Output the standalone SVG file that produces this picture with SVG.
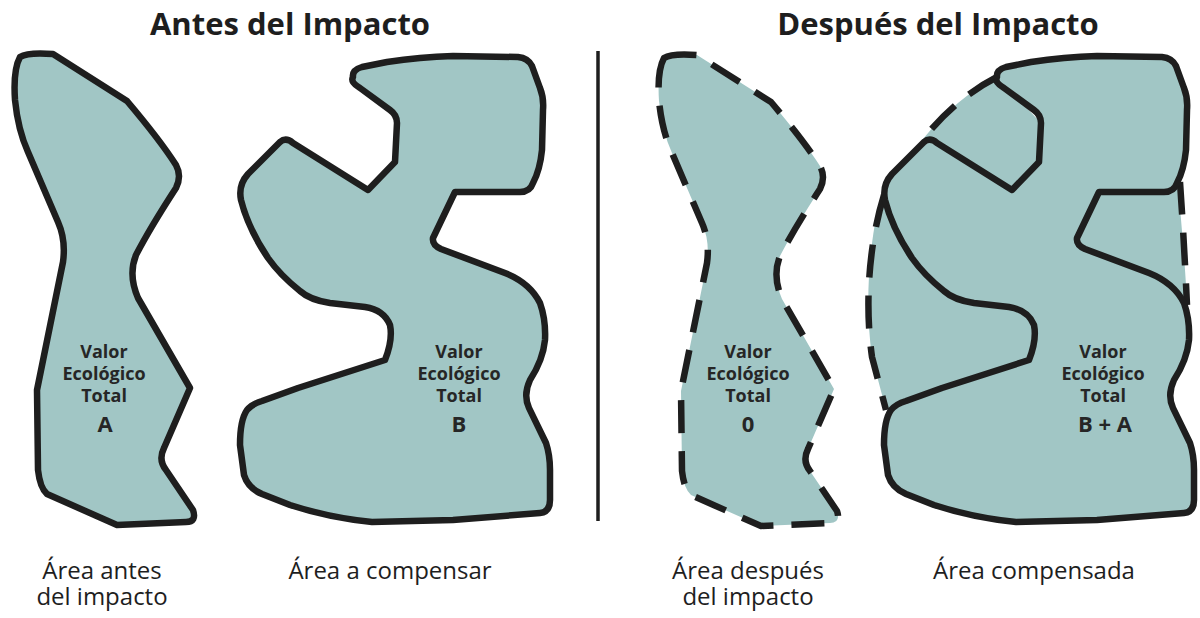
<svg xmlns="http://www.w3.org/2000/svg" width="1200" height="618" viewBox="0 0 1200 618">
<defs>
<style>
.fill{fill:#a1c6c5;stroke:none}
.solid{fill:none;stroke:#1e1e1e;stroke-width:6.5;stroke-linejoin:round;stroke-linecap:round}
.dash{fill:none;stroke:#1e1e1e;stroke-width:6.5;stroke-dasharray:33 18;stroke-linejoin:round}
.title{font-family:'Open Sans','DejaVu Sans',sans-serif;font-weight:bold;font-size:31px;fill:#1e1e1e;text-anchor:middle}
.lbl{font-family:'Open Sans','DejaVu Sans',sans-serif;font-size:24px;fill:#1e1e1e;text-anchor:middle}
.val{font-family:'Open Sans','DejaVu Sans',sans-serif;font-weight:bold;font-size:18px;fill:#262626;text-anchor:middle}
.big{font-family:'Open Sans','DejaVu Sans',sans-serif;font-weight:bold;font-size:22px;fill:#262626;text-anchor:middle}
</style>
<path id="shapeA" d="M 20,57 Q 28,52 53,54 L 127,101 Q 160,140 176,165 Q 182,176 176,188 Q 150,228 136,255 Q 128,275 138,298 L 190,388 L 164,448 Q 158,460 166,470 L 193,510 Q 197,522 186,522 L 117,525 L 47,494 Q 40,488 38,470 L 37,390 L 63,262 Q 66,240 58,222 L 28,152 Q 18,130 15,100 Q 13,70 20,57 Z"/>
<path id="shapeB" d="M 353,77 Q 352,70 362,67 L 387,62 Q 420,57 453,56 L 518,57 Q 528,58 532,66 L 540,88 Q 544,98 543,110 L 542,150 Q 540,170 533,183 Q 530,192 520,192 L 455,192 L 433,238 Q 432,245 441,249 L 505,273 Q 530,283 540,303 Q 546,320 545,340 Q 543,360 530,380 Q 523,395 529,408 L 546,443 Q 550,455 550,470 L 550,500 Q 550,512 540,513 L 453,520 L 372,522 Q 330,518 290,505 L 262,494 Q 248,488 244,475 L 240,445 Q 240,420 247,410 Q 252,404 262,401 L 298,388 L 385,360 Q 393,340 390,325 Q 384,310 365,307 L 330,303 Q 310,300 300,291 Q 280,275 268,258 Q 248,228 241,200 Q 238,185 248,174 L 280,142 Q 286,137 293,143 L 368,190 L 395,162 L 397,123 Q 397,115 390,110 L 360,88 Q 350,82 353,77 Z"/>
</defs>
<rect width="1200" height="618" fill="#ffffff"/>

<g id="titles">
<text class="title" x="290" y="35">Antes del Impacto</text>
<text class="title" x="938" y="35">Después del Impacto</text>
</g>

<g id="divider">
<line x1="598" y1="51" x2="598" y2="521" stroke="#1e1e1e" stroke-width="3.5"/>
</g>

<g id="area-antes">
<use href="#shapeA" class="fill"/>
<use href="#shapeA" class="solid"/>
<text class="val" x="104" y="358">Valor</text>
<text class="val" x="104" y="380">Ecológico</text>
<text class="val" x="104" y="402">Total</text>
<text class="big" x="105" y="432">A</text>
<text class="lbl" x="102" y="579">Área antes<tspan x="102" dy="26">del impacto</tspan></text>
</g>

<g id="area-compensar">
<use href="#shapeB" class="fill"/>
<use href="#shapeB" class="solid"/>
<text class="val" x="459" y="358">Valor</text>
<text class="val" x="459" y="380">Ecológico</text>
<text class="val" x="459" y="402">Total</text>
<text class="big" x="459" y="432">B</text>
<text class="lbl" x="390" y="579">Área a compensar</text>
</g>

<g id="area-despues">
<g transform="translate(644,1)">
<use href="#shapeA" class="fill"/>
<use href="#shapeA" class="dash"/>
</g>
<text class="val" x="748" y="358">Valor</text>
<text class="val" x="748" y="380">Ecológico</text>
<text class="val" x="748" y="402">Total</text>
<text class="big" x="748" y="432">0</text>
<text class="lbl" x="748" y="579">Área después<tspan x="748" dy="26">del impacto</tspan></text>
</g>

<g id="area-compensada">
<g transform="translate(644,0)">
<path class="fill" d="M 353,77 Q 312,98 279,139 L 247,176 L 236,200 C 226,240 220,300 228,357 L 242,410 L 387,360 L 395,330 L 368,190 L 395,162 L 397,123 Z"/>
<path class="fill" d="M 533,182 Q 540,240 543,305 L 505,273 L 441,249 L 433,238 L 455,192 L 520,192 Z"/>
<use href="#shapeB" class="fill"/>
<path class="dash" d="M 353,77 Q 312,98 279,139"/>
<path class="dash" d="M 240,195 C 226,240 220,300 228,357 L 242,410"/>
<path class="dash" d="M 536,182 Q 540,240 543,305"/>
<use href="#shapeB" class="solid"/>
</g>
<text class="val" x="1103" y="358">Valor</text>
<text class="val" x="1103" y="380">Ecológico</text>
<text class="val" x="1103" y="402">Total</text>
<text class="big" x="1105" y="432">B + A</text>
<text class="lbl" x="1034" y="579">Área compensada</text>
</g>
</svg>
